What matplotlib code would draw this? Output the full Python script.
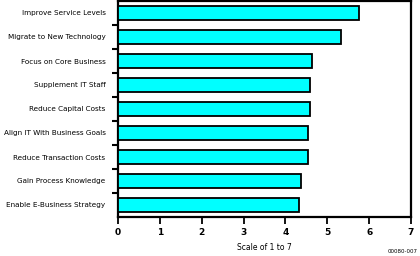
import matplotlib
matplotlib.use("Agg")
import matplotlib.pyplot as plt
import numpy as np

categories = [
    "Improve Service Levels",
    "Migrate to New Technology",
    "Focus on Core Business",
    "Supplement IT Staff",
    "Reduce Capital Costs",
    "Align IT With Business Goals",
    "Reduce Transaction Costs",
    "Gain Process Knowledge",
    "Enable E-Business Strategy",
]
values = [5.76, 5.33, 4.64, 4.59, 4.59, 4.54, 4.53, 4.38, 4.33]
xticks = [0, 1, 2, 3, 4, 5, 6, 7]

fig = plt.figure(figsize=(4.2, 2.56), dpi=100)
ax = fig.add_axes([118/420, 39/256, 293/420, 216/256])

n = len(categories)
pos = np.arange(n)
ax.barh(pos, values, height=0.55, color="#00FFFF", edgecolor="black", linewidth=1.3, zorder=3)
ax.set_ylim(n - 0.5, -0.5)
ax.set_xlim(0, 7)

# category labels without ticks at centers
ax.set_yticks(pos)
ax.set_yticklabels(categories, fontsize=5.2)
ax.tick_params(axis="y", length=0, pad=9)
# minor ticks at boundaries
ax.set_yticks(np.arange(n - 1) + 0.5, minor=True)
ax.tick_params(axis="y", which="minor", length=4, width=1.5, direction="out")

ax.set_xticks(xticks)
ax.set_xticklabels([str(t) for t in xticks], fontsize=6.5, fontweight="bold")
ax.tick_params(axis="x", length=5, width=1.3, direction="out", pad=3)

for s in ax.spines.values():
    s.set_linewidth(1.6)

ax.set_xlabel("Scale of 1 to 7", fontsize=5.5, labelpad=4)
fig.text(418/420, 2/256, "00080-007", fontsize=4, ha="right", va="bottom")

fig.savefig("out.png", dpi=100)
